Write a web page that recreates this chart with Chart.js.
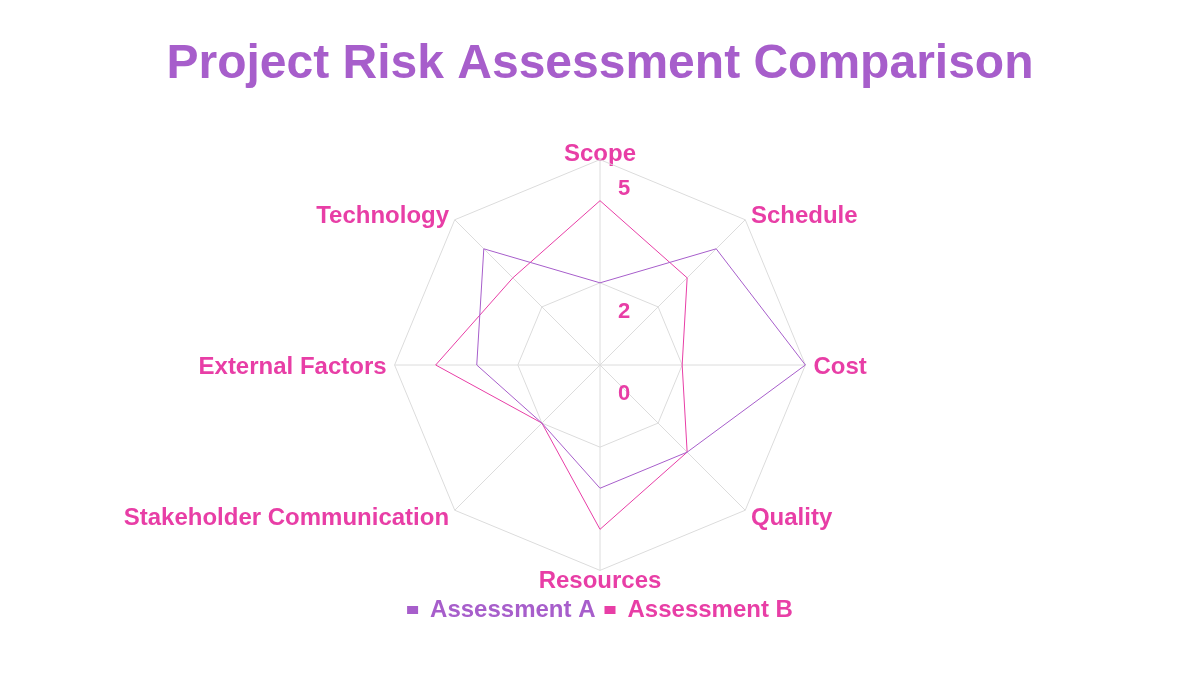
<!DOCTYPE html>
<html>
<head>
<meta charset="utf-8">
<title>Project Risk Assessment Comparison</title>
<script src="https://cdn.jsdelivr.net/npm/chart.js@4.4.1/dist/chart.umd.min.js"></script>
<style>
  html, body { margin: 0; padding: 0; background: #ffffff; }
</style>
</head>
<body>
<canvas id="riskChart" width="1200" height="675"></canvas>
<script>
const categories = ['Scope', 'Schedule', 'Cost', 'Quality', 'Resources', 'Stakeholder Communication', 'External Factors', 'Technology'];
const assessmentA = [2, 4, 5, 3, 3, 2, 3, 4];
const assessmentB = [4, 3, 2, 3, 4, 2, 4, 3];
const tickValues = [0, 2, 5];

const purple = '#a75ecb';
const pink = '#e83ea6';
const fontFamily = '"Liberation Sans", Arial, sans-serif';

// tick labels sit a little right of and below their ring
const tickLabelPlugin = {
    id: 'tickLabels',
    afterDatasetsDraw(chart) {
        const scale = chart.scales.r;
        const ctx = chart.ctx;
        ctx.save();
        ctx.font = 'bold 22px ' + fontFamily;
        ctx.fillStyle = pink;
        ctx.textAlign = 'center';
        ctx.textBaseline = 'middle';
        scale.ticks.forEach(t => {
            const d = scale.getDistanceFromCenterForValue(t.value);
            ctx.fillText(String(t.value), scale.xCenter + 24, scale.yCenter - d + 29);
        });
        ctx.restore();
    }
};

new Chart(document.getElementById('riskChart'), {
    type: 'radar',
    data: {
        labels: categories,
        datasets: [{
            label: 'Assessment A',
            data: assessmentA,
            borderColor: purple,
            backgroundColor: purple,
            borderWidth: 1,
            pointRadius: 0,
            fill: false
        }, {
            label: 'Assessment B',
            data: assessmentB,
            borderColor: pink,
            backgroundColor: pink,
            borderWidth: 1,
            pointRadius: 0,
            fill: false
        }]
    },
    options: {
        responsive: false,
        animation: false,
        devicePixelRatio: 1,
        layout: { padding: { top: 0, bottom: 43, left: 0, right: 0 } },
        plugins: {
            title: {
                display: true,
                text: 'Project Risk Assessment Comparison',
                color: purple,
                font: { family: fontFamily, size: 48, weight: 'bold' },
                padding: { top: 36, bottom: 58 }
            },
            legend: {
                position: 'bottom',
                // empty title only used as a spacer above the items
                title: { display: true, text: ' ', font: { size: 1 }, padding: { top: 8, bottom: 0 } },
                labels: {
                    boxWidth: 11,
                    boxHeight: 8,
                    padding: 9,
                    font: { family: fontFamily, size: 24, weight: 'bold' },
                    generateLabels(chart) {
                        return chart.data.datasets.map((ds, i) => ({
                            text: ds.label,
                            fillStyle: ds.borderColor,
                            strokeStyle: ds.borderColor,
                            fontColor: ds.borderColor,
                            lineWidth: 0,
                            datasetIndex: i,
                            hidden: !chart.isDatasetVisible(i)
                        }));
                    }
                }
            },
            tooltip: { enabled: false }
        },
        scales: {
            r: {
                min: 0,
                max: 5,
                afterBuildTicks(scale) {
                    scale.ticks = tickValues.map(v => ({ value: v }));
                },
                afterFit(scale) {
                    // nudge point labels down a touch
                    (scale._pointLabelItems || []).forEach(it => {
                        it.y += 2.5; it.top += 2.5; it.bottom += 2.5;
                    });
                },
                ticks: { display: false },
                grid: { color: '#dcdcdc', lineWidth: 1 },
                angleLines: { color: '#dcdcdc', lineWidth: 1 },
                pointLabels: {
                    color: pink,
                    padding: 8,
                    font: { family: fontFamily, size: 24, weight: 'bold', lineHeight: 0 }
                }
            }
        }
    },
    plugins: [tickLabelPlugin]
});
</script>
</body>
</html>
